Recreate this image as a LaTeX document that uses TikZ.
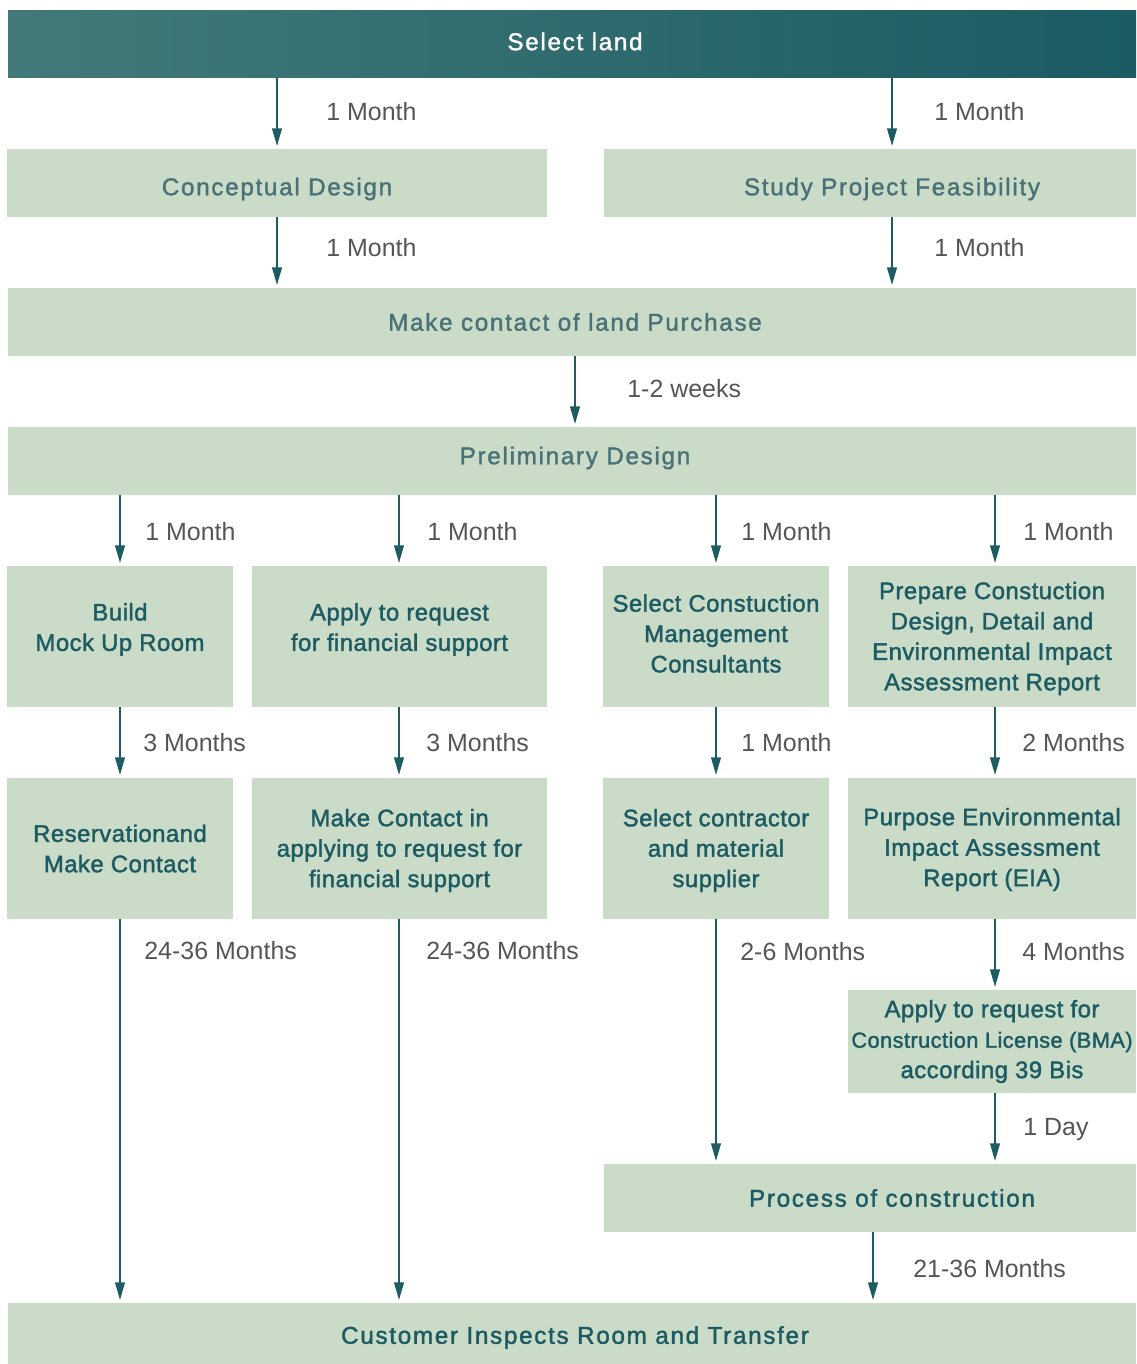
\documentclass[tikz,border=0pt]{standalone}
\usepackage{fontspec}
\setmainfont{Liberation Sans}
\newfontfamily\boxfont{Liberation Sans}[FakeBold=1.6, LetterSpace=2]
\newfontfamily\softfont{Liberation Sans}[FakeBold=1.4, LetterSpace=7]
\newfontfamily\widefont{Liberation Sans}[FakeBold=1.6, LetterSpace=7]
\usetikzlibrary{arrows.meta}

\definecolor{boxfill}{HTML}{CADBC8}
\definecolor{darktext}{HTML}{1D5B62}
\definecolor{softtext}{HTML}{4A7276}
\definecolor{labelgrey}{HTML}{555555}
\definecolor{arrowteal}{HTML}{1D5C63}
\definecolor{headL}{HTML}{437A79}
\definecolor{headR}{HTML}{1B5B63}

\tikzset{
  stagebox/.style={fill=boxfill, draw=none, inner sep=0pt},
  headbox/.style={left color=headL, right color=headR},
  stagetext/.style={inner sep=0pt, align=center, text=darktext,
    font=\boxfont\fontsize{13.6}{17.3}\selectfont},
  softtext/.style={text=softtext, font=\softfont\fontsize{13.8}{17.3}\selectfont},
  widetext/.style={font=\widefont\fontsize{13.8}{17.3}\selectfont},
  headtext/.style={text=white, font=\softfont\fontsize{13.8}{17.3}\selectfont},
  timelabel/.style={anchor=west, inner sep=0pt, text=labelgrey,
    font=\fontsize{14.2}{16}\selectfont},
  flow/.style={draw=arrowteal, line width=1.1pt, shorten >=1.5pt,
    -{Triangle[length=10pt,width=5.5pt]}},
}

% #1 box style, #2 text style, #3 name, #4..#7 corners (x1,y1,x2,y2) in px,
% #8 vertical text offset in px, #9 text
\newcommand{\placebox}[9]{%
  \node[stagebox,#1,
    minimum width={(#6-#4)*0.02cm}, minimum height={(#7-#5)*0.02cm}]
    (#3) at ({(#4+#6)/2},{(#5+#7)/2}) {};
  \node[stagetext,#2] (#3-text) at ({(#4+#6)/2},{(#5+#7)/2+#8}) {#9};}

\begin{document}
\begin{tikzpicture}[x=0.02cm, y=-0.02cm]
\useasboundingbox (0,0) rectangle (1136,1364);

% stages
\placebox{headbox}{headtext, xshift=0.06cm}{sel}{8}{11}{1136}{78}{-3}{Select land}
\placebox{}{softtext}{concept}{7}{149}{547}{217}{6}{Conceptual Design}
\placebox{}{softtext, xshift=0.44cm}{study}{604}{149}{1136}{217}{6}{Study Project Feasibility}
\placebox{}{softtext, xshift=0.06cm}{contact}{8}{288}{1136}{356}{0}{Make contact of land Purchase}
\placebox{}{softtext, xshift=0.06cm}{prelim}{8}{427}{1136}{495}{-3}{Preliminary Design}

\placebox{}{}{mock}{7}{566}{233}{707}{-7}{Build\\Mock Up Room}
\placebox{}{}{finreq}{252}{566}{547}{707}{-7}{Apply to request\\for financial support}
\placebox{}{}{cmc}{603}{566}{829}{707}{-3}{Select Constuction\\Management\\Consultants}
\placebox{}{}{prep}{848}{566}{1136}{707}{2}{Prepare Constuction\\Design, Detail and\\Environmental Impact\\Assessment Report}

\placebox{}{}{reserve}{7}{778}{233}{919}{0}{Reservationand\\Make Contact}
\placebox{}{}{makefin}{252}{778}{547}{919}{2}{Make Contact in\\applying to request for\\financial support}
\placebox{}{}{contractor}{603}{778}{829}{919}{2}{Select contractor\\and material\\supplier}
\placebox{}{}{eia}{848}{778}{1136}{919}{1}{Purpose Environmental\\Impact Assessment\\Report (EIA)}

\placebox{}{}{license}{848}{990}{1136}{1093}{0}{Apply to request for\\{\fontsize{12.4}{17.3}\selectfont Construction License (BMA)}\\according 39 Bis}
\placebox{}{widetext, xshift=0.44cm}{process}{604}{1164}{1136}{1232}{0}{Process of construction}
\placebox{}{widetext, xshift=0.06cm}{inspect}{8}{1303}{1136}{1364}{4}{Customer Inspects Room and Transfer}

% connector columns
\coordinate (cA) at (277,0);
\coordinate (cB) at (892,0);
\coordinate (cC) at (575,0);
\coordinate (c1) at (120,0);
\coordinate (c2) at (399,0);
\coordinate (c3) at (716,0);
\coordinate (c4) at (995,0);
\coordinate (cP) at (873,0);

% connectors
\draw[flow] (sel.south -| cA) -- (concept.north -| cA);
\draw[flow] (sel.south -| cB) -- (study.north -| cB);
\draw[flow] (concept.south -| cA) -- (contact.north -| cA);
\draw[flow] (study.south -| cB) -- (contact.north -| cB);
\draw[flow] (contact.south -| cC) -- (prelim.north -| cC);

\draw[flow] (prelim.south -| c1) -- (mock.north -| c1);
\draw[flow] (prelim.south -| c2) -- (finreq.north -| c2);
\draw[flow] (prelim.south -| c3) -- (cmc.north -| c3);
\draw[flow] (prelim.south -| c4) -- (prep.north -| c4);

\draw[flow] (mock.south -| c1) -- (reserve.north -| c1);
\draw[flow] (finreq.south -| c2) -- (makefin.north -| c2);
\draw[flow] (cmc.south -| c3) -- (contractor.north -| c3);
\draw[flow] (prep.south -| c4) -- (eia.north -| c4);

\draw[flow] (reserve.south -| c1) -- (inspect.north -| c1);
\draw[flow] (makefin.south -| c2) -- (inspect.north -| c2);
\draw[flow] (contractor.south -| c3) -- (process.north -| c3);
\draw[flow] (eia.south -| c4) -- (license.north -| c4);
\draw[flow] (license.south -| c4) -- (process.north -| c4);
\draw[flow] (process.south -| cP) -- (inspect.north -| cP);

% durations
\node[timelabel] (t1) at (326,112) {1 Month};
\node[timelabel] (t2) at (934,112) {1 Month};
\node[timelabel] (t3) at (326,248) {1 Month};
\node[timelabel] (t4) at (934,248) {1 Month};
\node[timelabel] (t5) at (627,389) {1-2 weeks};

\node[timelabel] (t6) at (145,532) {1 Month};
\node[timelabel] (t7) at (427,532) {1 Month};
\node[timelabel] (t8) at (741,532) {1 Month};
\node[timelabel] (t9) at (1023,532) {1 Month};

\node[timelabel] (t10) at (143,743) {3 Months};
\node[timelabel] (t11) at (426,743) {3 Months};
\node[timelabel] (t12) at (741,743) {1 Month};
\node[timelabel] (t13) at (1022,743) {2 Months};

\node[timelabel] (t14) at (144,951) {24-36 Months};
\node[timelabel] (t15) at (426,951) {24-36 Months};
\node[timelabel] (t16) at (740,952) {2-6 Months};
\node[timelabel] (t17) at (1022,952) {4 Months};

\node[timelabel] (t18) at (1023,1129) {1 Day};
\node[timelabel] (t19) at (913,1269) {21-36 Months};
\end{tikzpicture}
\end{document}
